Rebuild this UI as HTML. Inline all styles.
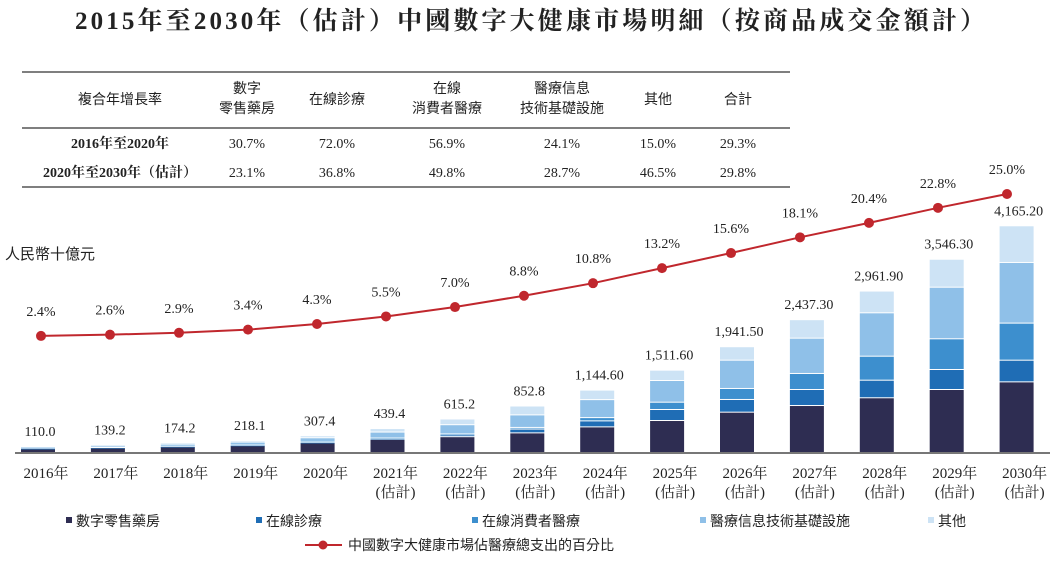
<!DOCTYPE html>
<html><head><meta charset="utf-8">
<style>
body{margin:0;background:#fff;width:1058px;height:559px;overflow:hidden;font-family:"Liberation Serif","Noto Serif CJK SC",serif;color:#222}
svg text{font-family:"Liberation Serif","Noto Serif CJK SC",serif;fill:#222}
svg text.cjk{font-family:"Liberation Sans","Noto Sans CJK TC",sans-serif}
</style></head><body>
<svg width="1058" height="559">
<text x="75" y="29" font-size="25" font-weight="bold" textLength="910" lengthAdjust="spacing">2015年至2030年（估計）中國數字大健康市場明細（按商品成交金額計）</text>
<g>
<line x1="22" y1="72" x2="790" y2="72" stroke="#555" stroke-width="1.5"/>
<line x1="22" y1="128" x2="790" y2="128" stroke="#555" stroke-width="1.5"/>
<line x1="22" y1="187" x2="790" y2="187" stroke="#555" stroke-width="1.5"/>
<g font-size="14">
<text class="cjk" x="120" y="104" text-anchor="middle">複合年增長率</text>
<text class="cjk" x="247" y="93" text-anchor="middle">數字</text>
<text class="cjk" x="247" y="113" text-anchor="middle">零售藥房</text>
<text class="cjk" x="337" y="104" text-anchor="middle">在線診療</text>
<text class="cjk" x="447" y="93" text-anchor="middle">在線</text>
<text class="cjk" x="447" y="113" text-anchor="middle">消費者醫療</text>
<text class="cjk" x="562" y="93" text-anchor="middle">醫療信息</text>
<text class="cjk" x="562" y="113" text-anchor="middle">技術基礎設施</text>
<text class="cjk" x="658" y="104" text-anchor="middle">其他</text>
<text class="cjk" x="738" y="104" text-anchor="middle">合計</text>
</g>
<g font-size="14">
<text x="120" y="148" text-anchor="middle" font-weight="bold">2016年至2020年</text>
<text x="120" y="177" text-anchor="middle" font-weight="bold">2020年至2030年（估計）</text>
</g>
<g id="tbl" font-size="14"></g>
</g>
<text class="cjk" x="5" y="259" font-size="15">人民幣十億元</text>
<g id="bars"></g>
<line x1="15" y1="453" x2="1050" y2="453" stroke="#777" stroke-width="2"/>
<g id="line"></g>
<g id="xlabels"></g>
<g id="legend" font-size="14"></g>
</svg>
<script>
const years=["2016","2017","2018","2019","2020","2021","2022","2023","2024","2025","2026","2027","2028","2029","2030"];
const totals=["110.0","139.2","174.2","218.1","307.4","439.4","615.2","852.8","1,144.60","1,511.60","1,941.50","2,437.30","2,961.90","3,546.30","4,165.20"];
const retail=[75,90,110,130,180,240,290,360,470,587,740,862,1004,1156,1296];
const consult=[1,1,2,3,5,15,35,70,110,202,233,294,323,367,398];
const consumer=[1,1,2,3,5,10,15,30,60,134,202,294,440,563,680];
const infra=[20,30,40,55,80,110,170,230,330,398,519,648,796,947,1113];
const other=[13,17,20,27,37,64,105,163,175,190,247,339,399,513,673];
const pct=[2.4,2.6,2.9,3.4,4.3,5.5,7.0,8.8,10.8,13.2,15.6,18.1,20.4,22.8,25.0];
const cagrRows=[["30.7%","72.0%","56.9%","24.1%","15.0%","29.3%"],["23.1%","36.8%","49.8%","28.7%","46.5%","29.8%"]];
const colX=[247,337,447,562,658,738];
const NS="http://www.w3.org/2000/svg";
function mk(t,a,p){const e=document.createElementNS(NS,t);for(const k in a)e.setAttribute(k,a[k]);p.appendChild(e);return e;}
const tbl=document.getElementById('tbl');
cagrRows.forEach((r,ri)=>r.forEach((v,ci)=>{const t=mk('text',{x:colX[ci],y:ri?177:148,'text-anchor':'middle'},tbl);t.textContent=v;

}));
const base=453,scale=0.0545;
const xBar=i=>38+i*69.9;
const xDot=i=>41+i*69;
const yPct=p=>351-6.28*p;
const series=[retail,consult,consumer,infra,other];
const colors=["#2e2d52","#1f6db5","#3d8fce","#8fc0e8","#cde3f5"];
const snames=["bar-retail-pharmacy","bar-online-consultation","bar-online-consumer-medical","bar-it-infrastructure","bar-other"];
const bars=document.getElementById('bars');
years.forEach((y,i)=>{let top=base;
series.forEach((s,si)=>{const h=s[i]*scale;const r=mk('rect',{x:xBar(i)-17,y:top-h,width:34,height:Math.max(h-1,0.5),fill:colors[si]},bars);


top-=h;});
const t=mk('text',{x:xBar(i)+2,y:top-11,'text-anchor':'middle','font-size':14},bars);t.textContent=totals[i];


const xl=document.getElementById('xlabels');
const a=mk('text',{x:xBar(i)+8,y:478,'text-anchor':'middle','font-size':15},xl);a.textContent=y+"年";


if(i>=5){const b=mk('text',{x:xBar(i)+8,y:497,'text-anchor':'middle','font-size':15},xl);b.textContent="(估計)";

}
});
const lg=document.getElementById('line');
const pl=mk('polyline',{points:pct.map((p,i)=>xDot(i)+","+yPct(p)).join(" "),fill:"none",stroke:"#c0272d","stroke-width":2},lg);


pct.forEach((p,i)=>{const c=mk('circle',{cx:xDot(i),cy:yPct(p),r:5,fill:"#c0272d"},lg);


const t=mk('text',{x:xDot(i),y:yPct(p)-20,'text-anchor':'middle','font-size':14},lg);t.textContent=p.toFixed(1)+"%";

});
const leg=document.getElementById('legend');
const lnames=["數字零售藥房","在線診療","在線消費者醫療","醫療信息技術基礎設施","其他"];
const lx=[72,262,478,706,934];
lnames.forEach((n,i)=>{const g=mk('g',{},leg);


mk('rect',{x:lx[i]-6,y:517,width:6,height:6,fill:colors[i]},g);
const t=mk('text',{x:lx[i]+4,y:526,class:'cjk'},g);t.textContent=n;});
const g2=mk('g',{},leg);


mk('line',{x1:305,y1:545,x2:342,y2:545,stroke:"#c0272d","stroke-width":2},g2);
mk('circle',{cx:323,cy:545,r:4.5,fill:"#c0272d"},g2);
const t2=mk('text',{x:348,y:550,class:'cjk'},g2);t2.textContent="中國數字大健康市場佔醫療總支出的百分比";
</script>
</body></html>
